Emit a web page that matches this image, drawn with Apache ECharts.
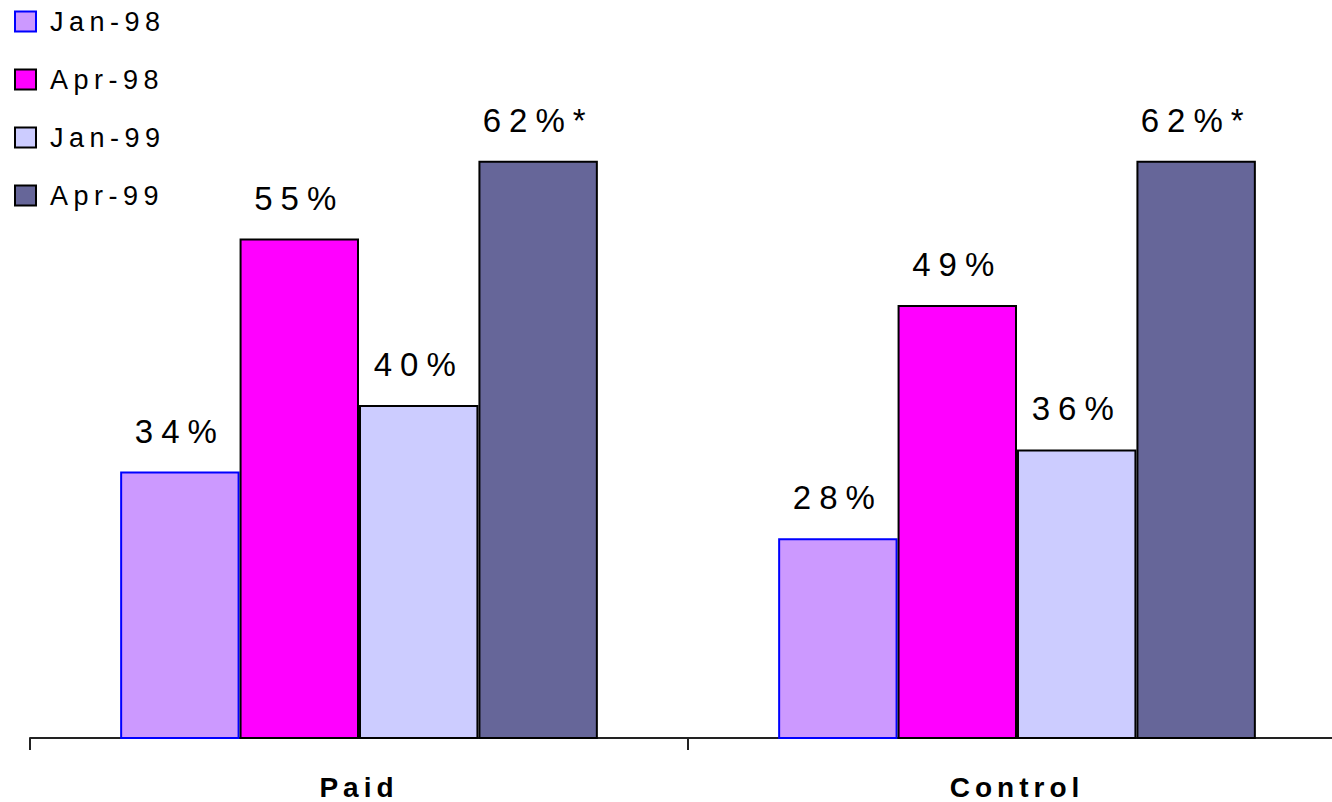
<!DOCTYPE html>
<html>
<head>
<meta charset="utf-8">
<script src="https://cdn.jsdelivr.net/npm/echarts@6/dist/echarts.min.js"></script>
<style>
  html, body { margin: 0; padding: 0; background: #fff; overflow: hidden; }
  /* the last category runs past the right edge, as in the original */
  #chart { width: 1346px; height: 802px; }
  /* the original spreads its letters out */
  #chart text[style*="33px"] { letter-spacing: 8px; }
  #chart text[style*="27px"] { letter-spacing: 5.5px; }
  #chart text[style*="28px"] { letter-spacing: 5px; }
</style>
</head>
<body>
<div id="chart"></div>
<script>
const categories = ['Paid', 'Control'];
const seriesNames = ['Jan-98', 'Apr-98', 'Jan-99', 'Apr-99'];
const jan98 = [34, 28];
const apr98 = [55, 49];
const jan99 = [40, 36];
const apr99 = [62, 62];
const labelSuffix = ['%', '%', '%', '%*'];

const values = [jan98, apr98, jan99, apr99];
const fills = ['#cc99ff', '#ff00ff', '#ccccff', '#666699'];
const borders = ['#0000ff', '#000000', '#000000', '#000000'];

const chart = echarts.init(document.getElementById('chart'), null, { renderer: 'svg' });

const option = {
  animation: false,
  textStyle: {
    fontFamily: 'Liberation Sans, Arial, sans-serif'
  },
  legend: {
    orient: 'vertical',
    left: 9,
    top: 3,
    icon: 'rect',
    itemWidth: 21,
    itemHeight: 20,
    itemGap: 31,
    textStyle: {
      fontSize: 27,
      color: '#000',
      padding: [0, 0, 0, 9]
    },
    data: seriesNames
  },
  grid: {
    left: 30,
    right: 0,
    top: 72,
    bottom: 64
  },
  xAxis: {
    type: 'category',
    data: categories,
    axisLine: {
      lineStyle: {
        color: '#222',
        width: 2
      }
    },
    axisTick: {
      show: true,
      length: 12,
      lineStyle: {
        color: '#222',
        width: 2
      }
    },
    axisLabel: {
      margin: 35,
      fontSize: 28,
      fontWeight: 'bold',
      color: '#000'
    }
  },
  yAxis: {
    type: 'value',
    min: 10,
    max: 70,
    show: false,
    splitLine: { show: false }
  },
  series: seriesNames.map((name, i) => ({
    name: name,
    type: 'bar',
    data: values[i],
    barGap: 0,
    barCategoryGap: '27.4%',
    itemStyle: {
      color: fills[i],
      borderColor: borders[i],
      borderWidth: 2
    },
    label: {
      show: true,
      position: 'top',
      distance: 24,
      fontSize: 33,
      color: '#000',
      formatter: '{c}' + labelSuffix[i]
    }
  }))
};

chart.setOption(option);
</script>
</body>
</html>
